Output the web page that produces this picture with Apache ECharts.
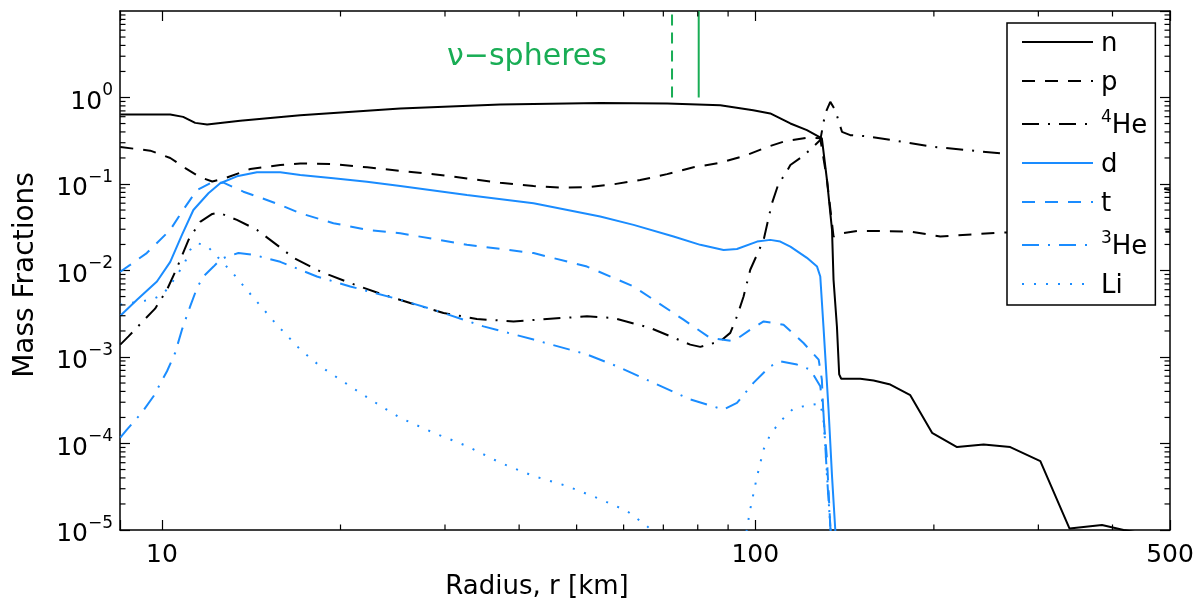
<!DOCTYPE html>
<html><head><meta charset="utf-8">
<script src="https://cdn.jsdelivr.net/npm/echarts@6/dist/echarts.min.js"></script>
<style>html,body{margin:0;padding:0;background:#fff}#c{width:1201px;height:608px}</style>
</head><body><div id="c"></div>
<script>
// ---------------- data (radius r [km], mass fraction) ----------------
const SERIES_NAMES = ['n', 'p', '4He', 'd', 't', '3He', 'Li'];

const N_DATA = [[8.51,0.637],[10.33,0.637],[10.86,0.597],[11.38,0.509],[11.92,0.488],[13.55,0.537],[17.11,0.625],[25.22,0.746],[37.17,0.830],[54.79,0.866],[71.07,0.853],[87.3,0.815],[99.2,0.714],[106,0.654],[114.6,0.501],[122.2,0.420],[129.5,0.337],[132.1,0.111],[134.7,0.0295],[135.5,0.0078],[137.3,0.00224],[138.5,6.3e-4],[139.6,5.6e-4],[150.3,5.59e-4],[158.3,5.34e-4],[168.9,4.8e-4],[182.5,3.62e-4],[198.6,1.33e-4],[218.8,9.09e-5],[242.6,9.76e-5],[269,9.09e-5],[302.3,6.27e-5],[338.6,1.04e-5],[384,1.14e-5],[417.6,1.0e-5],[500,8e-6]];

const P_DATA = [[8.51,0.267],[9.56,0.243],[10.33,0.2],[10.95,0.153],[11.6,0.12],[12.16,0.107],[12.79,0.117],[14.09,0.149],[15.83,0.166],[17.11,0.173],[19.44,0.170],[22.18,0.156],[25.22,0.142],[28.7,0.130],[32.67,0.116],[37.17,0.1035],[42.3,0.0948],[46.9,0.0907],[52.05,0.0916],[57.7,0.0992],[64,0.111],[71,0.13],[78.7,0.156],[87.3,0.176],[96.8,0.216],[104.6,0.267],[112.3,0.313],[122.9,0.344],[128.7,0.337],[132.1,0.111],[135.5,0.0247],[140,0.027],[149.2,0.0287],[156.2,0.0287],[182.5,0.0282],[205.1,0.0247],[258.8,0.0274],[500,0.028]];

const HE4_DATA = [[8.51,1.39e-3],[8.785,1.73e-3],[9.31,2.63e-3],[9.74,3.62e-3],[10.2,5.99e-3],[10.6,0.0107],[11.09,0.0226],[11.6,0.0365],[12.16,0.0451],[12.46,0.0467],[13.38,0.0385],[14.46,0.0295],[15.62,0.0198],[16.67,0.014],[18.49,9.74e-3],[20.77,7.16e-3],[23.63,5.24e-3],[26.21,4.21e-3],[29.83,3.23e-3],[33.95,2.75e-3],[39.14,2.58e-3],[44.56,2.75e-3],[52.05,2.95e-3],[57.7,2.82e-3],[66.53,2.17e-3],[77.7,1.39e-3],[80.8,1.31e-3],[87.3,1.52e-3],[90.76,1.9e-3],[93.15,2.95e-3],[95.57,5.01e-3],[98.08,0.0102],[103.3,0.0226],[106.7,0.0599],[109.5,0.1019],[112.3,0.1294],[114.6,0.1656],[119.9,0.2065],[123,0.2402],[128.7,0.3218],[131.2,0.654],[133.8,0.89],[136.4,0.714],[140,0.401],[144.6,0.367],[155,0.355],[199.8,0.269],[258.8,0.226],[500,0.085]];

const D_DATA = [[8.51,3.0e-3],[9.08,4.59e-3],[9.81,7.47e-3],[10.33,0.0126],[10.81,0.0258],[11.3,0.0501],[11.98,0.0781],[12.54,0.1019],[13.38,0.1227],[14.46,0.1364],[15.83,0.1364],[17.11,0.127],[19.46,0.1163],[22.16,0.1063],[25.22,0.0948],[32.67,0.0747],[42.3,0.0599],[54.79,0.042],[62.36,0.0337],[72.84,0.0247],[80.8,0.0198],[88.44,0.0173],[93.15,0.0177],[100.7,0.0216],[106,0.0226],[110.2,0.0216],[114.6,0.0189],[122.2,0.014],[127.1,0.0111],[128.7,8.53e-3],[130.3,2.26e-3],[132.9,2.47e-4],[134.7,4.2e-5],[136.4,1.02e-5],[137.5,5e-6]];

const T_DATA = [[8.51,9.66e-3],[8.84,0.0116],[9.43,0.0159],[10.33,0.0295],[10.81,0.0479],[11.46,0.0853],[12.06,0.1019],[12.7,0.1035],[13.72,0.0815],[15.03,0.0654],[15.83,0.0573],[17.11,0.0459],[19.46,0.0352],[22.16,0.0295],[25.22,0.027],[32.67,0.0198],[42.3,0.0159],[52.05,0.0111],[62.36,6.54e-3],[67.4,4.59e-3],[75.7,2.7e-3],[83.98,1.66e-3],[91.9,1.52e-3],[98.08,2.07e-3],[103.3,2.58e-3],[111.6,2.36e-3],[120.6,1.45e-3],[127.9,9.33e-4],[129.5,5.48e-4],[130.3,2.07e-4],[132.1,6.56e-5],[133.8,1.11e-5],[135,5e-6]];

const HE3_DATA = [[8.51,1.17e-4],[8.73,1.45e-4],[9.25,2.27e-4],[9.68,3.52e-4],[10.2,6.84e-4],[10.53,1.12e-3],[10.81,2.07e-3],[11.16,3.84e-3],[11.46,6.27e-3],[11.75,8.53e-3],[12.22,0.0111],[12.54,0.0133],[12.87,0.0145],[13.46,0.0159],[14.27,0.0152],[15.83,0.0126],[18.25,8.53e-3],[20.77,6.54e-3],[25.22,4.59e-3],[28.7,3.52e-3],[34.83,2.26e-3],[42.3,1.59e-3],[52.05,1.07e-3],[58.48,7.81e-4],[67.4,5.02e-4],[77.7,3.23e-4],[88.44,2.47e-4],[93.15,2.95e-4],[99.3,5.02e-4],[106,7.81e-4],[110.2,8.92e-4],[117.6,8.17e-4],[123.8,7.15e-4],[128.7,4.59e-4],[130.3,2.27e-4],[132.1,4.2e-5],[133.8,1.11e-5],[135,5e-6]];

const LI_DATA = [[8.51,4.02e-3],[8.84,4.21e-3],[9.19,4.39e-3],[9.62,4.59e-3],[10.0,5.24e-3],[10.26,6.32e-3],[10.66,9.33e-3],[10.95,0.0127],[11.16,0.0173],[11.46,0.0207],[11.91,0.0193],[12.54,0.0133],[13.2,9.16e-3],[14.27,4.84e-3],[15.62,2.36e-3],[17.11,1.22e-3],[18.49,7.81e-4],[19.98,5.48e-4],[21.59,3.85e-4],[23.63,2.59e-4],[25.22,1.98e-4],[28.7,1.33e-4],[32.67,9.33e-5],[37.17,6.0e-5],[42.3,4.2e-5],[48.15,3.23e-5],[54.79,2.27e-5],[60.77,1.66e-5],[65.7,1.11e-5],[67.83,8.9e-6],[80,3e-6],[94,3e-6],[96.8,1.02e-5],[98.08,1.74e-5],[100.7,4.17e-5],[103.3,8.55e-5],[106,1.27e-4],[110.2,1.8e-4],[116,2.54e-4],[122.2,2.75e-4],[128.7,2.9e-4],[130.3,1.9e-4],[131.2,9.33e-5],[132.9,2.27e-5],[133.8,1.11e-5],[135,5e-6]];

// neutrino-sphere radii and their vertical extent
const NU_R = [72.4, 80.3];
const NU_Y = [1, 10];

// axes
const X_TICK_LABELS = [10, 100, 500];
const X_MINOR = [20, 30, 40, 50, 60, 70, 80, 90, 200, 300, 400];
const Y_MINOR_MULT = [2, 3, 4, 5, 6, 7, 8, 9];
const Y_DECADES = [1e-5, 1e-4, 1e-3, 1e-2, 1e-1, 1];

// ---------------- styling ----------------
const FONT = 'DejaVu Sans';
const BLUE = '#1a8cff';
const GREEN = '#19ad55';
const BLACK = '#000000';
const X_MIN = 8.5, X_MAX = 500, Y_MIN = 1e-5, Y_MAX = 10;
const MAJOR_LEN = 10, MINOR_LEN = 5.5;
const DASH = [13, 10], DASHDOT = [17, 9, 2, 9], DOT = [2, 10];

const Y_MINOR = [];
Y_DECADES.forEach(d => Y_MINOR_MULT.forEach(m => Y_MINOR.push(m * d)));

function lineSeries(name, data, color, type) {
  return {
    name: name, type: 'line', data: data, symbol: 'none', showSymbol: false,
    smooth: false, clip: true, z: 3,
    lineStyle: { color: color, width: 2, type: type, cap: 'butt' },
    itemStyle: { color: color }
  };
}

function tickLine(x1, y1, x2, y2) {
  return { type: 'line', shape: { x1: x1, y1: y1, x2: x2, y2: y2 },
           style: { stroke: BLACK, lineWidth: 1.2 } };
}

const axisLineStyle = { show: true, onZero: false, lineStyle: { color: BLACK, width: 1.5 } };
const majorTick = { show: true, inside: true, length: MAJOR_LEN, lineStyle: { color: BLACK, width: 1.2 } };

function xAxisCfg(pos, showLabels) {
  return {
    type: 'log', logBase: 10, min: X_MIN, max: X_MAX, position: pos,
    axisLine: axisLineStyle, axisTick: majorTick, splitLine: { show: false },
    axisLabel: {
      show: showLabels, margin: 13, color: BLACK, fontFamily: FONT, fontSize: 25,
      showMinLabel: true, showMaxLabel: true,
      formatter: function (v) {
        const r = Math.round(v);
        return (Math.abs(v - r) < 1e-6 && X_TICK_LABELS.indexOf(r) >= 0) ? String(r) : '';
      }
    }
  };
}
function yAxisCfg(pos, showLabels) {
  return {
    type: 'log', logBase: 10, min: Y_MIN, max: Y_MAX, position: pos,
    axisLine: axisLineStyle, axisTick: majorTick, splitLine: { show: false },
    axisLabel: {
      show: showLabels, margin: 7, color: BLACK, showMaxLabel: false,
      formatter: function (v) {
        const e = Math.round(Math.log10(v));
        return '{b|10}{s|' + (e < 0 ? '\u2212' + (-e) : String(e)) + '}';
      },
      rich: {
        b: { fontFamily: FONT, fontSize: 25, lineHeight: 34, verticalAlign: 'bottom', color: BLACK },
        s: { fontFamily: FONT, fontSize: 17, lineHeight: 17, verticalAlign: 'bottom', padding: [0, 0, 15, 0], color: BLACK }
      }
    }
  };
}

const LEGEND_TEXT = { 'n': '{b|n}', 'p': '{b|p}', '4He': '{s|4}{h|He}', 'd': '{b|d}', 't': '{b|t}', '3He': '{s|3}{h|He}', 'Li': '{b|Li}' };

const option = {
  animation: false,
  backgroundColor: '#ffffff',
  grid: { left: 120, top: 11, width: 1050, height: 519 },
  xAxis: [xAxisCfg('bottom', true), xAxisCfg('top', false)],
  yAxis: [yAxisCfg('left', true), yAxisCfg('right', false)],
  legend: {
    data: SERIES_NAMES, orient: 'vertical', left: 1007, top: 23,
    itemWidth: 71, itemHeight: 14, itemGap: 13, padding: [8, 8, 6, 14],
    backgroundColor: '#ffffff', borderColor: BLACK, borderWidth: 1.5, borderRadius: 0,
    itemStyle: { opacity: 0 },
    selectedMode: false,
    formatter: function (name) { return LEGEND_TEXT[name]; },
    textStyle: {
      color: BLACK, fontFamily: FONT, fontSize: 26,
      rich: {
        b: { fontFamily: FONT, fontSize: 26, lineHeight: 30, verticalAlign: 'bottom', padding: [0, 0, 0, 3], color: BLACK },
        h: { fontFamily: FONT, fontSize: 26, lineHeight: 30, verticalAlign: 'bottom', color: BLACK },
        s: { fontFamily: FONT, fontSize: 17, lineHeight: 17, verticalAlign: 'bottom', padding: [0, 0, 13, 3], color: BLACK }
      }
    }
  },
  graphic: [
    { type: 'text', x: 527, y: 57, silent: true,
      style: { text: '\u03bd\u2212spheres', fill: GREEN, font: '30px "DejaVu Sans"', align: 'center', verticalAlign: 'middle' } },
    { type: 'text', x: 26, y: 275, rotation: Math.PI / 2, silent: true,
      style: { text: 'Mass Fractions', fill: BLACK, font: '28px "DejaVu Sans"', align: 'center', verticalAlign: 'middle' } },
    { type: 'text', x: 537, y: 587, silent: true,
      style: { text: 'Radius, r [km]', fill: BLACK, font: '26px "DejaVu Sans"', align: 'center', verticalAlign: 'middle' } }
  ],
  series: [
    lineSeries('n', N_DATA, BLACK, 'solid'),
    lineSeries('p', P_DATA, BLACK, DASH),
    lineSeries('4He', HE4_DATA, BLACK, DASHDOT),
    lineSeries('d', D_DATA, BLUE, 'solid'),
    lineSeries('t', T_DATA, BLUE, DASH),
    lineSeries('3He', HE3_DATA, BLUE, DASHDOT),
    lineSeries('Li', LI_DATA, BLUE, DOT),
    { name: 'nu-dashed', type: 'line', symbol: 'none', z: 4,
      data: [[NU_R[0], NU_Y[0]], [NU_R[0], NU_Y[1]]],
      lineStyle: { color: GREEN, width: 2, type: [11, 7] } },
    { name: 'nu-solid', type: 'line', symbol: 'none', z: 4,
      data: [[NU_R[1], NU_Y[0]], [NU_R[1], NU_Y[1]]],
      lineStyle: { color: GREEN, width: 2, type: 'solid' } },
    { name: 'x-minor', type: 'custom', silent: true, z: 5, clip: false,
      data: X_MINOR.map(v => [v, Y_MIN]),
      renderItem: function (params, api) {
        const v = api.value(0);
        const b = api.coord([v, Y_MIN]), t = api.coord([v, Y_MAX]);
        return { type: 'group', children: [
          tickLine(b[0], b[1], b[0], b[1] - MINOR_LEN),
          tickLine(t[0], t[1], t[0], t[1] + MINOR_LEN)
        ] };
      } },
    { name: 'y-minor', type: 'custom', silent: true, z: 5, clip: false,
      data: Y_MINOR.map(v => [X_MIN, v]),
      renderItem: function (params, api) {
        const v = api.value(1);
        const l = api.coord([X_MIN, v]), r = api.coord([X_MAX, v]);
        return { type: 'group', children: [
          tickLine(l[0], l[1], l[0] + MINOR_LEN, l[1]),
          tickLine(r[0], r[1], r[0] - MINOR_LEN, r[1])
        ] };
      } }
  ]
};

const chart = echarts.init(document.getElementById('c'), null, { renderer: 'canvas' });
chart.setOption(option);
</script>
</body></html>
